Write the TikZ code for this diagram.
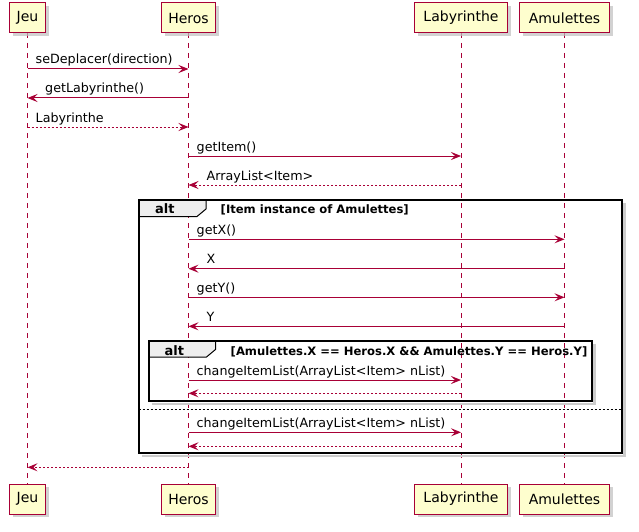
\documentclass[tikz,border=0pt]{standalone}
\usepackage{fontspec}
\setmainfont{DejaVu Sans}
\usetikzlibrary{arrows.meta,shadows}
\definecolor{pborder}{HTML}{A80036}
\definecolor{pfill}{HTML}{FEFECE}
\definecolor{tabfill}{HTML}{EEEEEE}
\tikzset{
  part/.style={draw=pborder, fill=pfill, line width=1pt, minimum height=30pt, inner sep=0pt,
    font=\fontsize{14}{16}\selectfont,
    drop shadow={shadow xshift=3pt, shadow yshift=-3pt, fill=black!25, opacity=0.7}},
  life/.style={draw=pborder, line width=1pt, dash pattern=on 5pt off 5pt},
  msg/.style={draw=pborder, line width=1pt, -{Stealth[length=10pt,width=8pt,inset=4pt]}},
  ret/.style={msg, dash pattern=on 2pt off 2pt},
  lbl/.style={font=\fontsize{12.7}{15}\selectfont, anchor=base west, inner sep=0pt},
  frm/.style={draw=black, line width=2pt},
  frmshadow/.style={draw=black!20, line width=2.5pt},
  tab/.style={draw=black, line width=1pt, fill=tabfill},
  altlbl/.style={font=\fontsize{13}{15}\selectfont\bfseries, anchor=base west, inner sep=0pt},
  cond/.style={font=\fontsize{11.6}{13}\selectfont\bfseries, anchor=base west, inner sep=0pt},
}
\begin{document}
\begin{tikzpicture}[x=1pt,y=-1pt]
\useasboundingbox (0,0) rectangle (639,532);
% lifelines
\coordinate (jeuL) at (27.5,0);
\coordinate (herL) at (188.5,0);
\coordinate (labL) at (461,0);
\coordinate (amuL) at (564.5,0);
\draw[life] (27.5,33) -- (27.5,484);
\draw[life] (188.5,33) -- (188.5,484);
\draw[life] (461,33) -- (461,484);
\draw[life] (564.5,33) -- (564.5,484);
% participants
\node[part, minimum width=36pt] (jeuT) at (27.5,18) {Jeu};
\node[part, minimum width=54pt] (herT) at (188.5,18) {Heros};
\node[part, minimum width=93pt] (labT) at (461,18) {Labyrinthe};
\node[part, minimum width=90pt] (amuT) at (564.5,18) {Amulettes};
\node[part, minimum width=36pt] (jeuB) at (27.5,499) {Jeu};
\node[part, minimum width=54pt] (herB) at (188.5,499) {Heros};
\node[part, minimum width=93pt] (labB) at (461,499) {Labyrinthe};
\node[part, minimum width=90pt] (amuB) at (564.5,499) {Amulettes};
% messages
\draw[msg] (jeuL |- 0,69) -- (herL |- 0,69);
\node[lbl] (l1) at (35.5,64) {seDeplacer(direction)};
\draw[msg] (herL |- 0,98) -- (jeuL |- 0,98);
\node[lbl] (l2) at (45,93) {getLabyrinthe()};
\draw[ret] (jeuL |- 0,127) -- (herL |- 0,127);
\node[lbl] (l3) at (35.5,122) {Labyrinthe};
\draw[msg] (herL |- 0,156) -- (labL |- 0,156);
\node[lbl] (l4) at (196.5,151) {getItem()};
\draw[ret] (labL |- 0,185) -- (herL |- 0,185);
\node[lbl] (l5) at (206.5,180) {ArrayList<Item>};
% outer alt frame
\draw[frmshadow] (624.5,203) -- (624.5,456) -- (141.5,456);
\draw[tab] (138.5,200) -- (206,200) -- (206,209) -- (197,216.5) -- (138.5,216.5) -- cycle;
\draw[frm] (138.5,200) rectangle (621.5,453);
\node[altlbl] (a1) at (155,213) {alt};
\node[cond] (c1) at (220.5,213) {[Item instance of Amulettes]};
\draw[msg] (herL |- 0,239.3) -- (amuL |- 0,239.3);
\node[lbl] (l6) at (196.5,234.3) {getX()};
\draw[msg] (amuL |- 0,268.7) -- (herL |- 0,268.7);
\node[lbl] (l7) at (206.5,263.7) {X};
\draw[msg] (herL |- 0,297.3) -- (amuL |- 0,297.3);
\node[lbl] (l8) at (196.5,292.3) {getY()};
\draw[msg] (amuL |- 0,326.3) -- (herL |- 0,326.3);
\node[lbl] (l9) at (206.5,321.3) {Y};
% inner alt frame
\draw[frmshadow] (594.5,343.5) -- (594.5,404) -- (151.5,404);
\draw[tab] (148.5,340.5) -- (215.5,340.5) -- (215.5,349.5) -- (206.5,357) -- (148.5,357) -- cycle;
\draw[frm] (148.5,340.5) rectangle (591.5,401);
\node[altlbl] (a2) at (164.5,355) {alt};
\node[cond] (c2) at (230.5,355) {[Amulettes.X == Heros.X \&\& Amulettes.Y == Heros.Y]};
\draw[msg] (herL |- 0,380) -- (labL |- 0,380);
\node[lbl] (l10) at (196.5,375) {changeItemList(ArrayList<Item> nList)};
\draw[ret] (labL |- 0,393.3) -- (herL |- 0,393.3);
% separator
\draw[black, line width=1pt, dash pattern=on 2pt off 2pt] (138.5,409) -- (621.5,409);
\draw[msg] (herL |- 0,432.3) -- (labL |- 0,432.3);
\node[lbl] (l11) at (196.5,427.3) {changeItemList(ArrayList<Item> nList)};
\draw[ret] (labL |- 0,446.3) -- (herL |- 0,446.3);
\draw[ret] (herL |- 0,467.3) -- (jeuL |- 0,467.3);
\end{tikzpicture}
\end{document}
